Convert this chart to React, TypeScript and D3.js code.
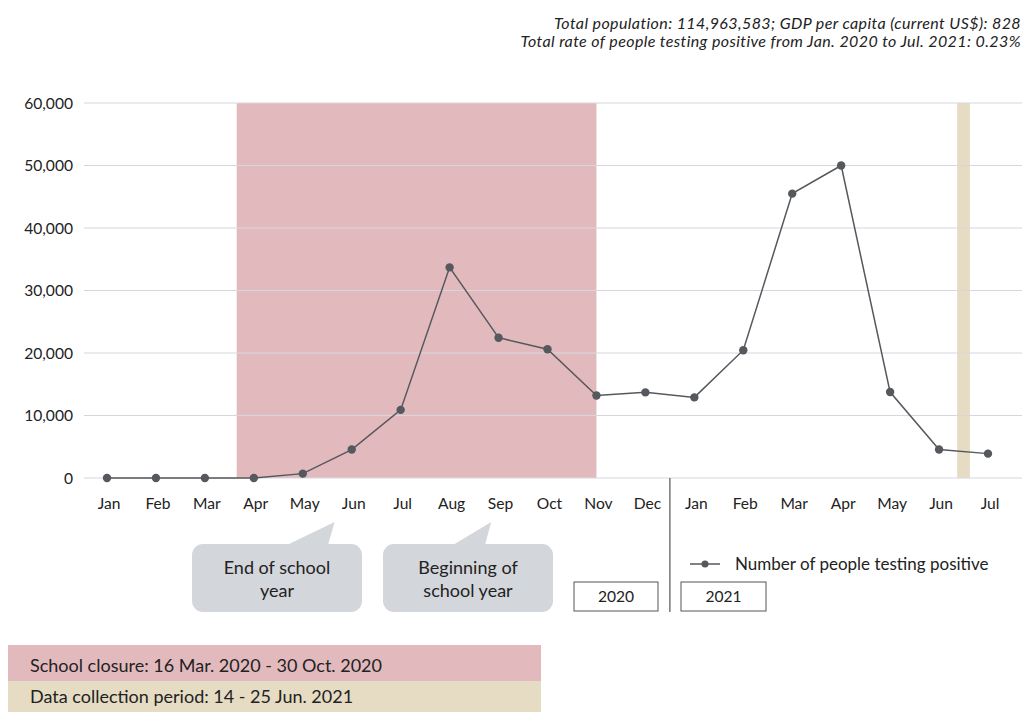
import React from "react";
import * as d3 from "d3";

const months = ["Jan","Feb","Mar","Apr","May","Jun","Jul","Aug","Sep","Oct","Nov","Dec","Jan","Feb","Mar","Apr","May","Jun","Jul"];
const keys = ["2020-01","2020-02","2020-03","2020-04","2020-05","2020-06","2020-07","2020-08","2020-09","2020-10","2020-11","2020-12","2021-01","2021-02","2021-03","2021-04","2021-05","2021-06","2021-07"];
const positives = [0, 0, 0, 0, 700, 4550, 10900, 33700, 22450, 20600, 13200, 13700, 12900, 20450, 45500, 50000, 13750, 4550, 3900];
const yTicks = [0, 10000, 20000, 30000, 40000, 50000, 60000];
const closure = [2.65, 10];      // month-index span of school closure
const collection = [17.37, 17.63]; // month-index span of data collection
const years = ["2020", "2021"];
const headerLines = [
  "Total population: 114,963,583; GDP per capita (current US$): 828",
  "Total rate of people testing positive from Jan. 2020 to Jul. 2021: 0.23%",
];
const callouts = [
  { lines: ["End of school", "year"], tipIdx: 4.65 },
  { lines: ["Beginning of", "school year"], tipIdx: 7.85 },
];
const legendLabel = "Number of people testing positive";
const footnotes = ["School closure: 16 Mar. 2020 - 30 Oct. 2020", "Data collection period: 14 - 25 Jun. 2021"];

const FONT = "Lato, 'Open Sans', sans-serif";
const PINK = "#e2babe";
const BEIGE = "#e6dcc4";
const LINE = "#55585d";

export default function App() {
  const x = d3.scalePoint<string>().domain(keys).range([107, 988]);
  const xi = d3.scaleLinear().domain([0, keys.length - 1]).range([107, 988]);
  const y = d3.scaleLinear().domain([0, 60000]).range([478, 103]);
  const line = d3.line<number>().x((_, i) => x(keys[i])!).y((d) => y(d));
  const fmt = d3.format(",");
  const sepX = xi(11.5);

  const calloutBoxes = [
    { x0: 192, x1: 362, b0: 287, b1: 328 },
    { x0: 383, x1: 553, b0: 453, b1: 485 },
  ];

  return (
    <svg width={1024} height={713} style={{ position: "absolute", left: 0, top: 0, fontFamily: FONT }}>
      <rect width={1024} height={713} fill="#fff" />
      {/* header */}
      {headerLines.map((t, i) => (
        <text key={i} x={1021} y={29 + i * 18.3} textAnchor="end" fontStyle="italic" fontSize={16} letterSpacing={0.4} fill="#222">{t}</text>
      ))}
      {/* shaded periods */}
      <rect x={xi(closure[0])} y={y(60000)} width={xi(closure[1]) - xi(closure[0])} height={y(0) - y(60000)} fill={PINK} />
      <rect x={xi(collection[0])} y={y(60000)} width={xi(collection[1]) - xi(collection[0])} height={y(0) - y(60000)} fill={BEIGE} />
      {/* grid */}
      {yTicks.map((t) => (
        <g key={t}>
          <line x1={84} x2={1022} y1={y(t)} y2={y(t)} stroke="#d6d7dd" strokeWidth={1.2} />
          <text x={73} y={y(t)} dy="0.36em" textAnchor="end" fontSize={15.6} fill="#222">{fmt(t)}</text>
        </g>
      ))}
      {/* x labels */}
      {keys.map((k, i) => (
        <text key={k} x={x(k)! + 2} y={509} textAnchor="middle" fontSize={15.6} fill="#222">{months[i]}</text>
      ))}
      {/* year separator */}
      <line x1={sepX} x2={sepX} y1={478} y2={612} stroke="#777" strokeWidth={1.5} />
      {/* year boxes */}
      {[{ x0: 574, x1: 658 }, { x0: 681, x1: 766 }].map((b, i) => (
        <g key={i}>
          <rect x={b.x0} y={582} width={b.x1 - b.x0} height={29} fill="#fff" stroke="#555" strokeWidth={1} />
          <text x={(b.x0 + b.x1) / 2} y={602} textAnchor="middle" fontSize={15.6} fill="#222">{years[i]}</text>
        </g>
      ))}
      {/* data line */}
      <path d={line(positives)!} fill="none" stroke={LINE} strokeWidth={1.5} />
      {positives.map((v, i) => (
        <circle key={i} cx={x(keys[i])!} cy={y(v)} r={4.2} fill={LINE} />
      ))}
      {/* callouts */}
      {callouts.map((c, i) => {
        const b = calloutBoxes[i];
        const tx = xi(c.tipIdx);
        const cx = (b.x0 + b.x1) / 2;
        return (
          <g key={i}>
            <rect x={b.x0} y={544} width={b.x1 - b.x0} height={68} rx={11} fill="#d3d6db" />
            <path d={`M${b.b0},545 L${tx},522 L${b.b1},545 Z`} fill="#d3d6db" />
            {c.lines.map((t, j) => (
              <text key={j} x={cx} y={574 + j * 23} textAnchor="middle" fontSize={18} fill="#222">{t}</text>
            ))}
          </g>
        );
      })}
      {/* legend */}
      <line x1={690} x2={720} y1={564} y2={564} stroke={LINE} strokeWidth={1.5} />
      <circle cx={705} cy={564} r={3.5} fill={LINE} />
      <text x={735} y={570} fontSize={17} fill="#222">{legendLabel}</text>
      {/* footnotes */}
      <rect x={8} y={645} width={533} height={36} fill={PINK} />
      <rect x={8} y={681} width={533} height={31} fill={BEIGE} />
      <text x={30} y={671.5} fontSize={18} fill="#222">{footnotes[0]}</text>
      <text x={30} y={702.5} fontSize={18} fill="#222">{footnotes[1]}</text>
    </svg>
  );
}
